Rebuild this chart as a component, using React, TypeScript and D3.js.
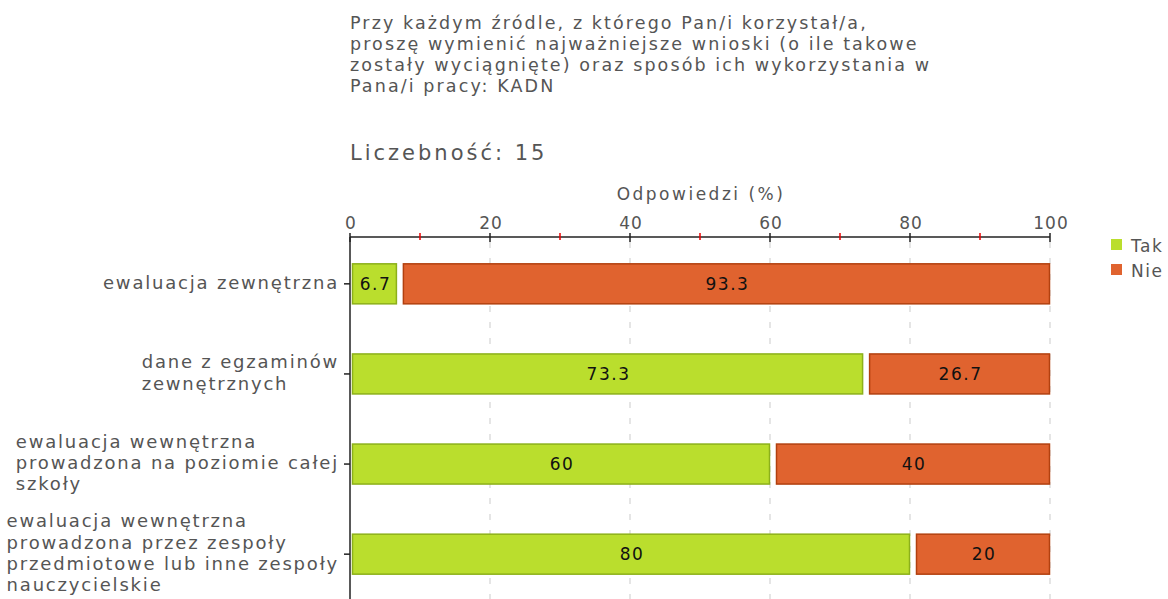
import React from "react";
import * as d3 from "d3";

const titleLines = [
  "Przy każdym źródle, z którego Pan/i korzystał/a,",
  "proszę wymienić najważniejsze wnioski (o ile takowe",
  "zostały wyciągnięte) oraz sposób ich wykorzystania w",
  "Pana/i pracy: KADN",
];
const countLabel = "Liczebność: 15";
const axisTitle = "Odpowiedzi (%)";
const categories = [
  ["ewaluacja zewnętrzna"],
  ["dane z egzaminów", "zewnętrznych"],
  ["ewaluacja wewnętrzna", "prowadzona na poziomie całej", "szkoły"],
  ["ewaluacja wewnętrzna", "prowadzona przez zespoły", "przedmiotowe lub inne zespoły", "nauczycielskie"],
];
const seriesNames = ["Tak", "Nie"];
const takValues = [6.7, 73.3, 60, 80];
const nieValues = [93.3, 26.7, 40, 20];
const majorTicks = [0, 20, 40, 60, 80, 100];
const minorTicks = [10, 30, 50, 70, 90];

const fills = ["#bade2d", "#e0632f"];
const strokes = ["#8cb01a", "#b2400f"];
const fontFam = "'DejaVu Sans', Verdana, sans-serif";

const LABEL_FS = 18;
const LABEL_LS = 1.8;
const LABEL_LH = 21.3;

function measure(text: string, fs: number, ls: number): number {
  if (typeof document === "undefined") return text.length * fs * 0.6;
  const c = document.createElement("canvas").getContext("2d");
  if (!c) return text.length * fs * 0.6;
  c.font = `${fs}px 'DejaVu Sans'`;
  return c.measureText(text).width + ls * text.length;
}

export default function App() {
  const W = 1168, H = 599;
  const x = d3.scaleLinear().domain([0, 100]).range([350, 1050]);
  const y = d3.scaleBand().domain(categories.map((_, i) => String(i))).range([239, 599]).paddingInner(0.545).paddingOuter(0.27);
  const axisY = 237;
  const series = [takValues, nieValues];
  const labelRight = 339;
  return (
    <svg width={W} height={H} style={{ position: "absolute", left: 0, top: 0, background: "#fff" }} fontFamily={fontFam}>
      {titleLines.map((t, i) => (
        <text key={i} x={350} y={29 + i * 21} fontSize={17.5} letterSpacing={2.1} fill="#555">{t}</text>
      ))}
      <text x={350} y={160} fontSize={21} letterSpacing={3.0} fill="#555">{countLabel}</text>
      <text x={x(50) + 1} y={200} fontSize={17} letterSpacing={2.5} fill="#555" textAnchor="middle">{axisTitle}</text>
      {majorTicks.filter(t => t > 0).map(t => (
        <line key={"g" + t} x1={x(t)} x2={x(t)} y1={axisY + 5} y2={H} stroke="#ddd" strokeDasharray="6,10" strokeWidth={1.5} />
      ))}
      {categories.map((c, i) => {
        const yy = y(String(i))!;
        const h = y.bandwidth();
        let acc = 0;
        const widths = c.map(l => measure(l, LABEL_FS, LABEL_LS));
        const maxW = Math.max(...widths);
        const startX = labelRight - maxW;
        return (
          <g key={i}>
            {series.map((s, k) => {
              const v = s[i];
              const x0 = x(acc) + (k === 0 ? 2 : 6);
              const x1 = x(acc + v);
              acc += v;
              return (
                <g key={k}>
                  <rect x={x0 + 0.5} y={yy + 0.5} width={x1 - x0 - 1} height={h - 1} fill={fills[k]} stroke={strokes[k]} strokeWidth={1.5} />
                  <text x={(x0 + x1) / 2 + 1} y={yy + h / 2 + 6} textAnchor="middle" fontSize={17} letterSpacing={1.5} fill="#111">{String(v)}</text>
                </g>
              );
            })}
            <line x1={344} x2={350} y1={yy + h / 2} y2={yy + h / 2} stroke="#222" strokeWidth={1.5} />
            {c.map((l, j) => (
              <text key={j} x={startX} y={yy + h / 2 + 5 + (j - (c.length - 1) / 2) * LABEL_LH} fontSize={LABEL_FS} letterSpacing={LABEL_LS} fill="#555">{l}</text>
            ))}
          </g>
        );
      })}
      <line x1={350} x2={1050} y1={axisY} y2={axisY} stroke="#222" strokeWidth={1.5} />
      <line x1={350} x2={350} y1={axisY} y2={H} stroke="#222" strokeWidth={1.5} />
      {majorTicks.map(t => (
        <g key={"t" + t}>
          <line x1={x(t)} x2={x(t)} y1={axisY - 4} y2={axisY + 5} stroke="#222" strokeWidth={1.5} />
          <text x={x(t) + 1} y={229} fontSize={17} letterSpacing={1} fill="#555" textAnchor="middle">{t}</text>
        </g>
      ))}
      {minorTicks.map(t => (
        <line key={"m" + t} x1={x(t)} x2={x(t)} y1={axisY - 4} y2={axisY + 3} stroke="#e00" strokeWidth={1.5} />
      ))}
      {seriesNames.map((n, k) => (
        <g key={n}>
          <rect x={1111} y={239 + k * 25} width={11} height={11} fill={fills[k]} />
          <text x={1131} y={252 + k * 25} fontSize={17} letterSpacing={1.5} fill="#555">{n}</text>
        </g>
      ))}
    </svg>
  );
}
